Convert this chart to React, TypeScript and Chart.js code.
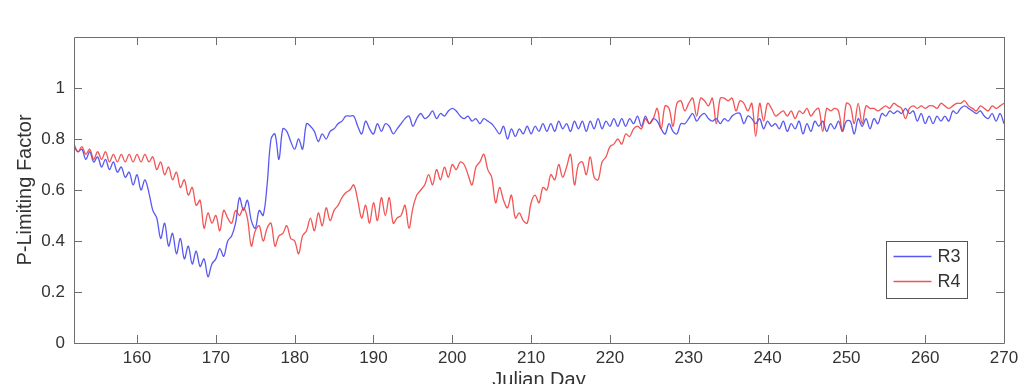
import React, { useEffect, useRef } from "react";
import { Chart, registerables } from "chart.js";

Chart.register(...registerables);

// Sampling of the two series: twice a day from day 152.
const DAY_START = 152;
const DAY_STEP = 0.5;

const SERIES_NAMES = ["R3", "R4"];

// P-limiting factor, station R3
const R3_VALUES = [
  0.77, 0.75, 0.76, 0.72, 0.75, 0.71, 0.73, 0.69, 0.72, 0.68,
  0.71, 0.67, 0.69, 0.65, 0.67, 0.62, 0.66, 0.60, 0.64, 0.59,
  0.52, 0.49, 0.41, 0.47, 0.38, 0.43, 0.35, 0.41, 0.33, 0.38,
  0.31, 0.36, 0.30, 0.33, 0.26, 0.31, 0.33, 0.37, 0.34, 0.40,
  0.42, 0.47, 0.57, 0.52, 0.56, 0.48, 0.45, 0.52, 0.50, 0.62,
  0.80, 0.82, 0.72, 0.84, 0.83, 0.79, 0.76, 0.80, 0.76, 0.86,
  0.85, 0.83, 0.79, 0.82, 0.80, 0.83, 0.84, 0.86, 0.87, 0.89,
  0.89, 0.89, 0.85, 0.82, 0.87, 0.84, 0.82, 0.86, 0.83, 0.86,
  0.85, 0.82, 0.84, 0.86, 0.88, 0.89, 0.85, 0.88, 0.90, 0.88,
  0.89, 0.91, 0.88, 0.90, 0.89, 0.91, 0.92, 0.91, 0.89, 0.88,
  0.89, 0.87, 0.88, 0.86, 0.88, 0.87, 0.86, 0.84, 0.82, 0.85,
  0.80, 0.84, 0.81, 0.84, 0.82, 0.85, 0.82, 0.85, 0.83, 0.86,
  0.83, 0.86, 0.83, 0.87, 0.84, 0.86, 0.83, 0.87, 0.84, 0.87,
  0.83, 0.87, 0.84, 0.88, 0.84, 0.87, 0.85, 0.88, 0.85, 0.88,
  0.85, 0.88, 0.86, 0.89, 0.85, 0.89, 0.86, 0.88, 0.87, 0.84,
  0.82, 0.86, 0.83, 0.82, 0.86, 0.86, 0.88, 0.90, 0.87, 0.89,
  0.90, 0.88, 0.87, 0.88, 0.86, 0.88, 0.87, 0.89, 0.90, 0.90,
  0.86, 0.89, 0.88, 0.86, 0.88, 0.84, 0.87, 0.85, 0.86, 0.84,
  0.87, 0.83, 0.86, 0.84, 0.87, 0.82, 0.86, 0.83, 0.87, 0.85,
  0.87, 0.83, 0.86, 0.84, 0.87, 0.83, 0.87, 0.87, 0.82, 0.88,
  0.85, 0.88, 0.84, 0.88, 0.86, 0.90, 0.89, 0.91, 0.90, 0.91,
  0.90, 0.92, 0.90, 0.91, 0.87, 0.90, 0.86, 0.89, 0.86, 0.89,
  0.87, 0.89, 0.87, 0.91, 0.90, 0.92, 0.93, 0.92, 0.91, 0.90,
  0.91, 0.89, 0.88, 0.90, 0.87, 0.90, 0.86,
];

// P-limiting factor, station R4
const R4_VALUES = [
  0.78, 0.75, 0.77, 0.74, 0.76, 0.72, 0.75, 0.72, 0.75, 0.71,
  0.74, 0.71, 0.74, 0.71, 0.74, 0.71, 0.74, 0.71, 0.74, 0.71,
  0.73, 0.68, 0.71, 0.66, 0.69, 0.64, 0.67, 0.61, 0.64, 0.58,
  0.61, 0.54, 0.56, 0.45, 0.51, 0.47, 0.50, 0.44, 0.52, 0.49,
  0.47, 0.52, 0.50, 0.53, 0.49, 0.38, 0.44, 0.46, 0.40, 0.45,
  0.47, 0.38, 0.42, 0.43, 0.46, 0.41, 0.40, 0.35, 0.42, 0.44,
  0.49, 0.44, 0.51, 0.46, 0.53, 0.48, 0.52, 0.54, 0.57, 0.59,
  0.60, 0.62, 0.56, 0.49, 0.54, 0.47, 0.55, 0.48, 0.57, 0.50,
  0.57, 0.47, 0.49, 0.50, 0.54, 0.45, 0.53, 0.58, 0.60, 0.62,
  0.66, 0.62, 0.68, 0.64, 0.69, 0.65, 0.70, 0.68, 0.71, 0.70,
  0.66, 0.62, 0.69, 0.71, 0.74, 0.68, 0.65, 0.55, 0.61, 0.56,
  0.53, 0.58, 0.49, 0.51, 0.48, 0.47, 0.55, 0.58, 0.55, 0.61,
  0.60, 0.66, 0.64, 0.70, 0.65, 0.69, 0.74, 0.62, 0.70, 0.71,
  0.66, 0.73, 0.65, 0.64, 0.71, 0.73, 0.77, 0.78, 0.80, 0.78,
  0.82, 0.81, 0.84, 0.85, 0.84, 0.88, 0.86, 0.88, 0.92, 0.84,
  0.93, 0.92, 0.85, 0.94, 0.95, 0.91, 0.94, 0.96, 0.89, 0.96,
  0.95, 0.93, 0.96, 0.86, 0.96, 0.96, 0.95, 0.96, 0.91, 0.95,
  0.94, 0.91, 0.94, 0.81, 0.94, 0.87, 0.94, 0.92, 0.89, 0.90,
  0.91, 0.89, 0.91, 0.88, 0.91, 0.90, 0.92, 0.89, 0.91, 0.92,
  0.83, 0.92, 0.91, 0.92, 0.91, 0.83, 0.94, 0.93, 0.86, 0.94,
  0.86, 0.93, 0.92, 0.92, 0.91, 0.92, 0.93, 0.92, 0.94, 0.93,
  0.92, 0.88, 0.92, 0.93, 0.92, 0.93, 0.92, 0.93, 0.93, 0.92,
  0.94, 0.93, 0.92, 0.93, 0.94, 0.94, 0.95, 0.93, 0.92, 0.91,
  0.93, 0.92, 0.91, 0.93, 0.92, 0.93, 0.94,
];

const X_TICKS = [160, 170, 180, 190, 200, 210, 220, 230, 240, 250, 260, 270];
const Y_TICKS = [0, 0.2, 0.4, 0.6, 0.8, 1];
const Y_TICK_LABELS = ["0", "0.2", "0.4", "0.6", "0.8", "1"];

const X_MIN = 152;
const X_MAX = 270;
const Y_MIN = 0;
const Y_MAX = 1.2;

const COLORS = ["rgba(60,60,240,0.85)", "rgba(240,55,55,0.85)"];
const FONT_FAMILY = "'Liberation Sans', Arial, Helvetica, sans-serif";
const TEXT_COLOR = "#333333";
const AXIS_COLOR = "#6e6e6e";

const toPoints = (values: number[]) =>
  values.map((v, i) => ({ x: DAY_START + i * DAY_STEP, y: v }));

// Draws the boxed frame with inward tick marks and the legend panel.
const framePlugin = {
  id: "frame",
  afterDatasetsDraw(chart: any) {
    const { ctx, chartArea } = chart;
    const { left, right, top, bottom } = chartArea;
    const xs = chart.scales.x;
    const ys = chart.scales.y;
    const tick = 8;
    ctx.save();
    ctx.strokeStyle = AXIS_COLOR;
    ctx.lineWidth = 1;
    ctx.beginPath();
    ctx.rect(Math.round(left) + 0.5, Math.round(top) + 0.5, Math.round(right - left), Math.round(bottom - top));
    for (const v of X_TICKS) {
      const px = Math.round(xs.getPixelForValue(v)) + 0.5;
      ctx.moveTo(px, bottom);
      ctx.lineTo(px, bottom - tick);
      ctx.moveTo(px, top);
      ctx.lineTo(px, top + tick);
    }
    for (const v of Y_TICKS) {
      const py = Math.round(ys.getPixelForValue(v)) + 0.5;
      ctx.moveTo(left, py);
      ctx.lineTo(left + tick, py);
      ctx.moveTo(right, py);
      ctx.lineTo(right - tick, py);
    }
    ctx.stroke();

    // legend panel
    const bx = 886.5;
    const by = 241.5;
    const bw = 81;
    const bh = 57;
    ctx.fillStyle = "#ffffff";
    ctx.fillRect(bx, by, bw, bh);
    ctx.strokeStyle = "#555555";
    ctx.strokeRect(bx, by, bw, bh);
    ctx.font = `18px ${FONT_FAMILY}`;
    ctx.textBaseline = "middle";
    ctx.textAlign = "left";
    chart.data.datasets.forEach((ds: any, i: number) => {
      const y = by + 15 + i * 25;
      ctx.strokeStyle = ds.borderColor;
      ctx.lineWidth = 1.5;
      ctx.beginPath();
      ctx.moveTo(bx + 7, y);
      ctx.lineTo(bx + 45, y);
      ctx.stroke();
      ctx.fillStyle = TEXT_COLOR;
      ctx.fillText(ds.label, bx + 51, y + 1);
    });
    ctx.restore();
  },
};

export default function App() {
  const canvasRef = useRef<HTMLCanvasElement | null>(null);

  useEffect(() => {
    const canvas = canvasRef.current;
    if (!canvas) return;
    const chart = new Chart(canvas, {
      type: "line",
      data: {
        datasets: [
          {
            label: SERIES_NAMES[0],
            data: toPoints(R3_VALUES),
            borderColor: COLORS[0],
            borderWidth: 1.3,
            pointRadius: 0,
            tension: 0.35,
            fill: false,
            order: 2,
          },
          {
            label: SERIES_NAMES[1],
            data: toPoints(R4_VALUES),
            borderColor: COLORS[1],
            borderWidth: 1.3,
            pointRadius: 0,
            tension: 0.35,
            fill: false,
            order: 1,
          },
        ],
      },
      options: {
        animation: false,
        responsive: false,
        devicePixelRatio: 1,
        layout: { padding: { left: 0, top: 37, right: 25, bottom: 0 } },
        plugins: {
          legend: { display: false },
          tooltip: { enabled: false },
        },
        scales: {
          x: {
            type: "linear",
            min: X_MIN,
            max: X_MAX,
            afterBuildTicks: (scale: any) => {
              scale.ticks = X_TICKS.map((v) => ({ value: v }));
            },
            afterFit: (scale: any) => {
              scale.height = 57;
            },
            grid: { display: false, drawTicks: false },
            border: { display: false },
            ticks: {
              padding: 5,
              color: TEXT_COLOR,
              font: { family: FONT_FAMILY, size: 17 },
              maxRotation: 0,
              autoSkip: false,
              callback: (v: any) => String(v),
            },
            title: {
              display: true,
              text: "Julian Day",
              color: TEXT_COLOR,
              font: { family: FONT_FAMILY, size: 20 },
              padding: { top: 0, bottom: 8 },
            },
          },
          y: {
            type: "linear",
            min: Y_MIN,
            max: Y_MAX,
            afterBuildTicks: (scale: any) => {
              scale.ticks = Y_TICKS.map((v) => ({ value: v }));
            },
            afterFit: (scale: any) => {
              scale.width = 74;
            },
            grid: { display: false, drawTicks: false },
            border: { display: false },
            ticks: {
              padding: 9,
              color: TEXT_COLOR,
              font: { family: FONT_FAMILY, size: 17 },
              autoSkip: false,
              callback: (v: any) => {
                const idx = Y_TICKS.findIndex((t) => Math.abs(t - Number(v)) < 1e-9);
                return idx >= 0 ? Y_TICK_LABELS[idx] : "";
              },
            },
            title: {
              display: true,
              text: "P-Limiting Factor",
              color: TEXT_COLOR,
              font: { family: FONT_FAMILY, size: 20 },
              padding: { top: 13, bottom: 0 },
            },
          },
        },
      },
      plugins: [framePlugin],
    });
    return () => chart.destroy();
  }, []);

  return (
    <div
      style={{
        position: "fixed",
        left: 0,
        top: 0,
        width: 1029,
        height: 384,
        overflow: "hidden",
        background: "#ffffff",
      }}
    >
      <canvas ref={canvasRef} width={1029} height={400} style={{ display: "block" }} />
    </div>
  );
}
